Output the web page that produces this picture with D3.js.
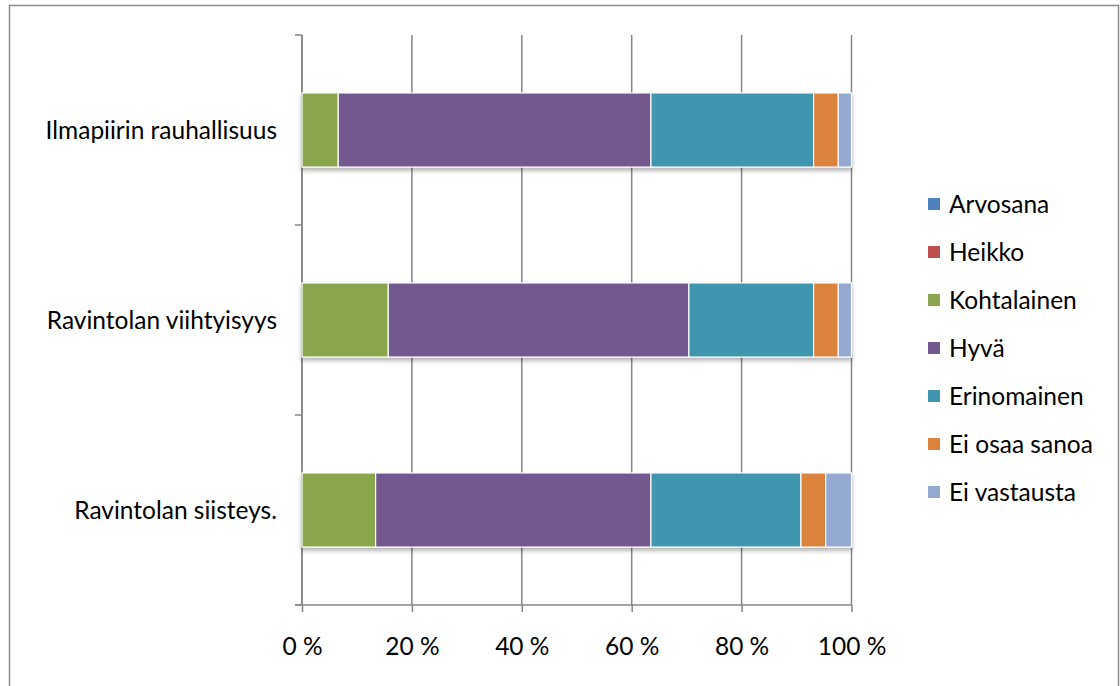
<!DOCTYPE html>
<html>
<head>
<meta charset="utf-8">
<script src="https://cdn.jsdelivr.net/npm/d3@7"></script>
<style>
  html, body { margin: 0; padding: 0; background: #fff; }
  svg { display: block; font-family: Lato, "Open Sans", sans-serif; }
</style>
</head>
<body>
<svg id="chart"></svg>
<script>
// kategoriat ylhäältä alas
var categories = ["Ilmapiirin rauhallisuus", "Ravintolan viihtyisyys", "Ravintolan siisteys."];
var seriesNames = ["Arvosana", "Heikko", "Kohtalainen", "Hyvä", "Erinomainen", "Ei osaa sanoa", "Ei vastausta"];
var seriesColors = ["#4f81bd", "#c0504d", "#8aa64e", "#72598f", "#4196ae", "#db823c", "#94a9d2"];
// prosenttiosuudet sarjoittain (sama järjestys kuin categories)
var arvosana = [0, 0, 0];
var heikko = [0, 0, 0];
var kohtalainen = [6.6, 15.7, 13.4];
var hyva = [56.9, 54.7, 50.1];
var erinomainen = [29.6, 22.7, 27.3];
var eiOsaaSanoa = [4.5, 4.5, 4.5];
var eiVastausta = [2.4, 2.4, 4.7];
var xTicks = [0, 20, 40, 60, 80, 100];

var width = 1120, height = 686;
var fontSize = "24.5px";
var svg = d3.select("#chart").attr("width", width).attr("height", height);

var seriesValues = [arvosana, heikko, kohtalainen, hyva, erinomainen, eiOsaaSanoa, eiVastausta];
var table = categories.map(function(c, i) {
  var row = {category: c};
  seriesNames.forEach(function(s, j) { row[s] = seriesValues[j][i]; });
  return row;
});

var x = d3.scaleLinear().domain([0, 100]).range([302, 851.5]);
var y = d3.scaleBand().domain(categories).range([35, 605]).paddingInner(0.61).paddingOuter(0.305);
var color = d3.scaleOrdinal().domain(seriesNames).range(seriesColors);

// reunus
svg.append("rect")
  .attr("x", 9.5).attr("y", 5.5)
  .attr("width", 1109).attr("height", 700)
  .attr("fill", "none").attr("stroke", "#8c8c8c").attr("stroke-width", 1.5);

var defs = svg.append("defs");
var f = defs.append("filter").attr("id", "shadow")
  .attr("x", "-5%").attr("y", "-20%").attr("width", "110%").attr("height", "150%");
f.append("feDropShadow").attr("dx", 0).attr("dy", 3).attr("stdDeviation", 2.2)
  .attr("flood-color", "#000").attr("flood-opacity", 0.3);

// pystysuorat apuviivat
svg.append("g").selectAll("line").data(xTicks).join("line")
  .attr("x1", function(d) { return x(d); }).attr("x2", function(d) { return x(d); })
  .attr("y1", 35).attr("y2", 605)
  .attr("stroke", "#868686").attr("stroke-width", 1.5);

// y-akseli ja kategorioiden väliviivat
var step = y.step();
var yTickPos = categories.map(function(c) { return y(c) - step * y.paddingInner() / 2; }).concat([605]);
svg.append("line").attr("x1", 302).attr("x2", 302).attr("y1", 35).attr("y2", 605)
  .attr("stroke", "#868686").attr("stroke-width", 1.5);
svg.append("g").selectAll("line").data(yTickPos).join("line")
  .attr("x1", 295).attr("x2", 302)
  .attr("y1", function(d) { return d; }).attr("y2", function(d) { return d; })
  .attr("stroke", "#868686").attr("stroke-width", 1.5);

// pinotut palkit
var stacked = d3.stack().keys(seriesNames)(table);
var layers = svg.append("g").attr("filter", "url(#shadow)");
layers.selectAll("g").data(stacked).join("g")
  .attr("fill", function(d) { return color(d.key); })
  .selectAll("rect").data(function(d) { return d.filter(function(p) { return p[1] - p[0] > 0; }); })
  .join("rect")
  .attr("x", function(d) { return x(d[0]); })
  .attr("y", function(d) { return y(d.data.category); })
  .attr("width", function(d) { return x(d[1]) - x(d[0]); })
  .attr("height", y.bandwidth())
  .attr("stroke", "#fff").attr("stroke-width", 1.2);

// x-akseli
var xAxis = svg.append("g").attr("transform", "translate(0,605)")
  .call(d3.axisBottom(x).tickValues(xTicks).tickSize(7).tickPadding(34)
    .tickFormat(function(d) { return d + " %"; }));
xAxis.select(".domain").attr("stroke", "#868686").attr("stroke-width", 1.5)
  .attr("d", "M295,0H851.5");
xAxis.selectAll(".tick line").attr("stroke", "#868686").attr("stroke-width", 1.5);
xAxis.selectAll(".tick text").attr("fill", "#000").attr("dy", "0.35em").style("font-size", fontSize)
  .style("font-family", "Lato, 'Open Sans', sans-serif");

// kategorioiden nimet
svg.append("g").selectAll("text").data(categories).join("text")
  .attr("x", 277)
  .attr("y", function(d) { return y(d) + y.bandwidth() / 2; })
  .attr("dy", "0.35em")
  .attr("text-anchor", "end")
  .style("font-size", fontSize)
  .text(function(d) { return d; });

// selite
var legend = svg.append("g").selectAll("g").data(seriesNames).join("g")
  .attr("transform", function(d, i) { return "translate(928," + (204 + i * 48) + ")"; });
legend.append("rect").attr("x", 0).attr("y", -6).attr("width", 12).attr("height", 12)
  .attr("fill", function(d) { return color(d); });
legend.append("text").attr("x", 21).attr("dy", "0.35em")
  .style("font-size", fontSize)
  .text(function(d) { return d; });
</script>
</body>
</html>
